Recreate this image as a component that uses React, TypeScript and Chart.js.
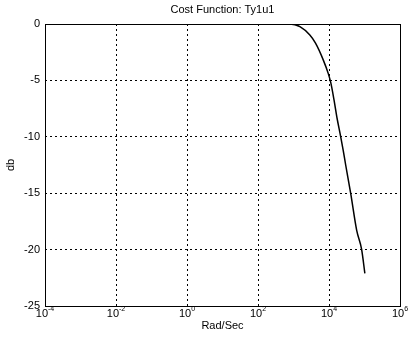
import React, { useEffect, useRef } from "react";
import { Chart, registerables } from "chart.js";

Chart.register(...registerables);

const titleText = "Cost Function: Ty1u1";
const xAxisLabel = "Rad/Sec";
const yAxisLabel = "db";

// frequency (rad/s) and magnitude (dB)
const freqs = [1e-4, 1e-2, 1, 100, 794, 1514, 2884, 4169, 6918, 9550, 11220, 13804, 16982, 21380, 25119, 29512, 40738, 60256, 83176, 102329];
const mags = [0, 0, 0, 0, 0, -0.24, -0.98, -1.7, -3.2, -4.4, -5.2, -6.7, -8.4, -10, -11.2, -12.5, -15, -18.3, -20, -22.1];

const xTickValues = [1e-4, 1e-2, 1, 1e2, 1e4, 1e6];
const xTickExponents = ["-4", "-2", "0", "2", "4", "6"];
const FONT = "'Liberation Sans', Arial, sans-serif";

const framePlugin = {
  id: "frameAndLabels",
  afterDraw(chart: any) {
    const { ctx, chartArea } = chart;
    const xs = chart.scales.x;
    ctx.save();
    ctx.strokeStyle = "#000";
    ctx.lineWidth = 1;
    ctx.setLineDash([]);
    ctx.strokeRect(
      Math.round(chartArea.left) + 0.5,
      Math.round(chartArea.top) + 0.5,
      Math.round(chartArea.right - chartArea.left),
      Math.round(chartArea.bottom - chartArea.top)
    );
    // title
    ctx.fillStyle = "#000";
    ctx.font = `11px ${FONT}`;
    ctx.textAlign = "center";
    ctx.textBaseline = "middle";
    ctx.fillText(titleText, (chartArea.left + chartArea.right) / 2, 10);
    // x tick labels with superscript exponents
    ctx.textAlign = "left";
    ctx.textBaseline = "alphabetic";
    xTickValues.forEach((v, i) => {
      const px = xs.getPixelForValue(v);
      ctx.font = `11px ${FONT}`;
      const wBase = ctx.measureText("10").width;
      ctx.font = `7px ${FONT}`;
      const wExp = ctx.measureText(xTickExponents[i]).width;
      const start = px - (wBase + wExp) / 2;
      ctx.font = `11px ${FONT}`;
      ctx.fillText("10", start, chartArea.bottom + 11);
      ctx.font = `7px ${FONT}`;
      ctx.fillText(xTickExponents[i], start + wBase, chartArea.bottom + 5);
    });
    ctx.restore();
  },
};

export default function App() {
  const ref = useRef<HTMLCanvasElement>(null);
  useEffect(() => {
    document.body.style.margin = "0";
    const chart = new Chart(ref.current as HTMLCanvasElement, {
      type: "line",
      data: {
        datasets: [
          {
            data: freqs.map((f, i) => ({ x: f, y: mags[i] })),
            borderColor: "#000",
            borderWidth: 1.5,
            pointRadius: 0,
            cubicInterpolationMode: "monotone",
            fill: false,
          },
        ],
      },
      options: {
        animation: false,
        responsive: false,
        layout: { padding: { top: 24, right: 11, left: 0, bottom: 0 } },
        plugins: { legend: { display: false }, tooltip: { enabled: false }, title: { display: false } },
        scales: {
          x: {
            type: "logarithmic",
            min: 1e-4,
            max: 1e6,
            afterBuildTicks: (s: any) => {
              s.ticks = xTickValues.map((v) => ({ value: v }));
            },
            afterFit: (s: any) => {
              s.height = 37;
            },
            ticks: { display: false },
            grid: { color: "#000", lineWidth: 1, drawTicks: false },
            border: { display: false, dash: [2, 3] },
            title: {
              display: true,
              text: xAxisLabel,
              color: "#000",
              font: { family: FONT, size: 11 },
              padding: { top: 10, bottom: 10 },
            },
          },
          y: {
            min: -25,
            max: 0,
            afterFit: (s: any) => {
              s.width = 45;
            },
            ticks: {
              stepSize: 5,
              color: "#000",
              padding: 5,
              font: { family: FONT, size: 11 },
            },
            grid: { color: "#000", lineWidth: 1, drawTicks: false },
            border: { display: false, dash: [2, 3] },
            title: {
              display: true,
              text: yAxisLabel,
              color: "#000",
              font: { family: FONT, size: 11 },
              padding: { top: 4, bottom: 4 },
            },
          },
        },
      },
      plugins: [framePlugin],
    } as any);
    return () => chart.destroy();
  }, []);
  return (
    <div style={{ width: 411, height: 343, background: "#fff" }}>
      <canvas ref={ref} width={411} height={343} style={{ display: "block" }} />
    </div>
  );
}
